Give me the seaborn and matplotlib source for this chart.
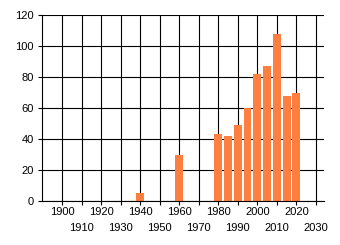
import matplotlib
matplotlib.use("Agg")
import matplotlib.pyplot as plt
import seaborn as sns
import pandas as pd

years = [1940, 1960, 1980, 1985, 1990, 1995, 2000, 2005, 2010, 2015, 2020]
values = [5, 30, 43, 42, 49, 60, 82, 87, 108, 68, 70]
even_ticks = [1900, 1920, 1940, 1960, 1980, 2000, 2020]
odd_ticks = [1910, 1930, 1950, 1970, 1990, 2010, 2030]
y_ticks = [0, 20, 40, 60, 80, 100, 120]

sns.set_theme(style="white")
plt.rcParams['font.family'] = ['Liberation Sans', 'DejaVu Sans']
plt.rcParams['font.size'] = 8
plt.rcParams['xtick.labelsize'] = 8
plt.rcParams['ytick.labelsize'] = 8

df = pd.DataFrame({"year": years, "value": values})

fig = plt.figure(figsize=(3.4, 2.45), dpi=100)
ax = fig.add_axes([41.7 / 340, 1 - 201 / 245, (324.3 - 41.7) / 340, (201 - 15) / 245])

sns.barplot(data=df, x="year", y="value", native_scale=True, color="#FF7F40",
            saturation=1, width=0.8, ax=ax, edgecolor="none", linewidth=0)

ax.set_xlim(1889.6, 2034.3)
ax.set_ylim(0, 120)
ax.set_xticks(even_ticks)
ax.set_xticklabels([str(t) for t in even_ticks])
ax.set_xticks(odd_ticks, minor=True)
ax.set_xticklabels([str(t) for t in odd_ticks], minor=True)
ax.set_yticks(y_ticks)
ax.set_yticklabels([str(t) for t in y_ticks])
ax.set_xlabel("")
ax.set_ylabel("")

lw = 0.8
ax.set_axisbelow(True)
ax.grid(True, which="both", axis="x", color="black", linewidth=lw)
ax.grid(True, which="major", axis="y", color="black", linewidth=lw)

for s in ["top", "right"]:
    ax.spines[s].set_visible(False)
for s in ["left", "bottom"]:
    ax.spines[s].set_visible(True)
    ax.spines[s].set_color("black")
    ax.spines[s].set_linewidth(lw)

ax.tick_params(axis="x", which="major", length=3, width=lw, color="black",
               direction="out", bottom=True, pad=1.2, labelcolor="black", labelsize=8)
ax.tick_params(axis="x", which="minor", length=3, width=lw, color="black",
               direction="out", bottom=True, pad=12.5, labelcolor="black", labelsize=8)
ax.tick_params(axis="y", which="major", length=3, width=lw, color="black",
               direction="out", left=True, pad=2.5, labelcolor="black", labelsize=8)

fig.savefig("out.png", dpi=100)
